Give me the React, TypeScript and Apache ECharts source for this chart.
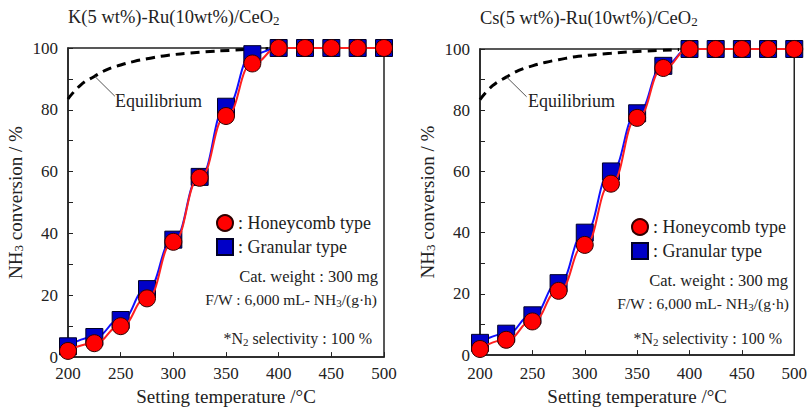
import React, { useEffect, useRef } from "react";
import * as echarts from "echarts";

const temps = [200, 225, 250, 275, 300, 325, 350, 375, 400, 425, 450, 475, 500];
const kHoneycomb = [2, 4.5, 10, 19, 37.3, 58, 78, 95, 100, 100, 100, 100, 100];
const kGranular = [3.5, 6.5, 12, 22, 38, 58.3, 81, 98, 100, 100, 100, 100, 100];
const csHoneycomb = [2, 5, 11, 21, 36, 56, 77.5, 93.8, 100, 100, 100, 100, 100];
const csGranular = [4, 7, 13, 23.5, 40, 60, 79, 94.5, 100, 100, 100, 100, 100];

const equilTemps = [200, 212, 225, 237, 250, 262, 275, 294, 325, 357, 390];
const equilValues = [83.5, 88, 90.8, 93, 94.5, 95.6, 96.5, 97.6, 98.6, 99.3, 99.8];
const leaderTemps = [225.5, 244.5];
const leaderValues = [90.8, 84.4];

const xTicks = { min: 200, max: 500, interval: 50 };
const yTicks = { min: 0, max: 100, interval: 10 };

const FONT = "Liberation Serif";
const INK = "#222";

const pairs = (xs: number[], ys: number[]) => xs.map((x, i) => [x, ys[i]]);

const mkRich = (size: number) => ({
  n: { fontFamily: FONT, fontSize: size, color: INK },
  s: { fontFamily: FONT, fontSize: Math.round(size * 0.7), color: INK, padding: [7, 0, 0, 0] },
});

export default function App() {
  const ref = useRef<HTMLDivElement>(null);
  useEffect(() => {
    if (!ref.current) return;
    const chart = echarts.init(ref.current, null, { renderer: "svg" });
    const grids = [
      { left: 68, top: 48, width: 316, height: 314 },
      { left: 480, top: 49, width: 317, height: 314 },
    ];
    const xAxes = grids.map((_, i) => ({
      type: "value",
      gridIndex: i,
      min: xTicks.min,
      max: xTicks.max,
      interval: xTicks.interval,
      name: "{n|Setting temperature /°C}",
      nameLocation: "middle",
      nameGap: i === 0 ? 28 : 31,
      nameTextStyle: { fontFamily: FONT, rich: mkRich(19) },
      axisLine: { show: true, lineStyle: { color: INK, width: 1.5 } },
      axisTick: { show: true, inside: true, length: 5, lineStyle: { color: INK } },
      axisLabel: {
        fontFamily: FONT,
        margin: i === 0 ? 8 : 10,
        formatter: (v: number) => `{n|${v}}`,
        rich: mkRich(17),
      },
      splitLine: { show: false },
    }));
    const yAxes = grids.map((_, i) => ({
      type: "value",
      gridIndex: i,
      min: yTicks.min,
      max: yTicks.max,
      interval: yTicks.interval,
      name: "{n|NH}{s|3}{n| conversion / %}",
      nameLocation: "middle",
      nameRotate: 90,
      nameGap: 43,
      nameTextStyle: { fontFamily: FONT, rich: mkRich(19) },
      axisLine: { show: true, lineStyle: { color: INK, width: 1.5 } },
      axisTick: { show: true, inside: true, length: 5, lineStyle: { color: INK } },
      axisLabel: {
        fontFamily: FONT,
        margin: 10,
        formatter: (v: number) => (v % 20 === 0 ? `{n|${v}}` : ""),
        rich: mkRich(17),
      },
      splitLine: { show: false },
    }));

    const panelData = [
      { honey: kHoneycomb, gran: kGranular },
      { honey: csHoneycomb, gran: csGranular },
    ];
    const series: any[] = [];
    panelData.forEach((p, i) => {
      series.push({
        name: "Equilibrium",
        type: "line",
        xAxisIndex: i,
        yAxisIndex: i,
        data: pairs(equilTemps, equilValues),
        smooth: true,
        showSymbol: false,
        lineStyle: { color: "#000", width: 3, type: [9, 6] },
        z: 2,
      });
      series.push({
        name: "leader",
        type: "line",
        xAxisIndex: i,
        yAxisIndex: i,
        data: pairs(leaderTemps, leaderValues),
        showSymbol: false,
        lineStyle: { color: "#555", width: 1 },
        z: 2,
      });
      series.push({
        name: "Granular type",
        type: "line",
        xAxisIndex: i,
        yAxisIndex: i,
        data: pairs(temps, p.gran),
        smooth: true,
        smoothMonotone: "x",
        symbol: "rect",
        symbolSize: 17,
        lineStyle: { color: "#1010ff", width: 2 },
        itemStyle: { color: "#0000c8", borderColor: "#000028", borderWidth: 1 },
        z: 3,
      });
      series.push({
        name: "Honeycomb type",
        type: "line",
        xAxisIndex: i,
        yAxisIndex: i,
        data: pairs(temps, p.honey),
        smooth: true,
        smoothMonotone: "x",
        symbol: "circle",
        symbolSize: 17,
        lineStyle: { color: "#ff2020", width: 2 },
        itemStyle: { color: "#ff0000", borderColor: "#300000", borderWidth: 1 },
        z: 4,
      });
    });

    const legendBase = {
      orient: "vertical",
      itemWidth: 16,
      itemHeight: 16,
      itemGap: 6,
      formatter: "{n|: {name}}",
      textStyle: { fontFamily: FONT, rich: mkRich(18) },
      selectedMode: false,
      data: [
        { name: "Honeycomb type", icon: "circle" },
        { name: "Granular type", icon: "rect" },
      ],
    };

    const txt = (x: number, y: number, text: string, size: number, align = "left") => ({
      type: "text",
      x,
      y,
      style: {
        text,
        rich: mkRich(size),
        textAlign: align,
        textVerticalAlign: "middle",
        fontFamily: FONT,
        fontSize: size,
        fill: INK,
      },
      z: 10,
    });

    const graphics = [
      txt(68, 17, "{n|K(5 wt%)-Ru(10wt%)/CeO}{s|2}", 18.5),
      txt(480, 18, "{n|Cs(5 wt%)-Ru(10wt%)/CeO}{s|2}", 18.5),
      txt(115, 101, "{n|Equilibrium}", 18),
      txt(528, 101, "{n|Equilibrium}", 18),
      txt(378, 276, "{n|Cat. weight : 300 mg}", 16.5, "right"),
      txt(377, 299, "{n|F/W : 6,000 mL- NH}{s|3}{n|/(g·h)}", 15.5, "right"),
      txt(372, 338, "{n|*N}{s|2}{n| selectivity : 100 %}", 16, "right"),
      txt(788, 280, "{n|Cat. weight : 300 mg}", 16.5, "right"),
      txt(789, 303, "{n|F/W : 6,000 mL- NH}{s|3}{n|/(g·h)}", 15.5, "right"),
      txt(782, 338, "{n|*N}{s|2}{n| selectivity : 100 %}", 16, "right"),
    ];

    chart.setOption({
      animation: false,
      textStyle: { fontFamily: FONT, color: INK },
      grid: grids.map((g) => ({
        ...g,
        show: true,
        borderColor: INK,
        borderWidth: 1.5,
        backgroundColor: "transparent",
      })),
      xAxis: xAxes,
      yAxis: yAxes,
      legend: [
        { ...legendBase, left: 211, top: 209 },
        { ...legendBase, left: 626, top: 213 },
      ],
      series,
      graphic: graphics,
    });
    return () => chart.dispose();
  }, []);
  return <div ref={ref} style={{ width: 810, height: 411, position: "absolute", left: 0, top: 0 }} />;
}
